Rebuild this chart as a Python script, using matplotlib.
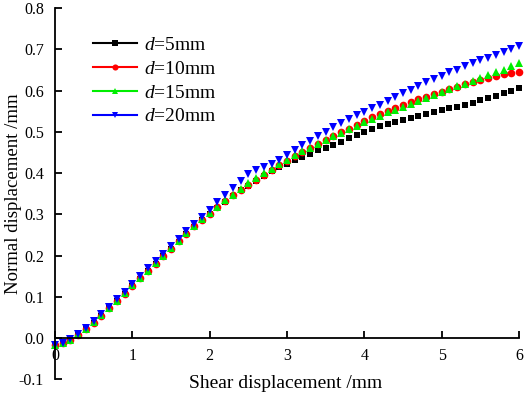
import numpy as np
import matplotlib
matplotlib.use("Agg")
import matplotlib.pyplot as plt
from matplotlib.lines import Line2D

plt.rcParams['font.family'] = 'Liberation Serif'
plt.rcParams['mathtext.fontset'] = 'custom'
plt.rcParams['mathtext.it'] = 'Liberation Serif:italic'
plt.rcParams['mathtext.rm'] = 'Liberation Serif'

# shear displacement (mm), one reading every 0.1 mm
shear = np.round(np.arange(0, 61) * 0.1, 1)

# normal displacement (mm)
d5 = [-0.016, -0.011, -0.004, 0.009, 0.022, 0.038, 0.055, 0.072, 0.090, 0.108,
      0.126, 0.144, 0.162, 0.180, 0.198, 0.216, 0.234, 0.252, 0.270, 0.286,
      0.301, 0.316, 0.331, 0.345, 0.358, 0.370, 0.382, 0.393, 0.404, 0.414,
      0.423, 0.431, 0.439, 0.447, 0.455, 0.462, 0.469, 0.476, 0.485, 0.492,
      0.500, 0.507, 0.513, 0.519, 0.524, 0.529, 0.534, 0.539, 0.543, 0.548,
      0.552, 0.557, 0.561, 0.566, 0.571, 0.576, 0.582, 0.588, 0.594, 0.600,
      0.606]
d10 = [-0.016, -0.011, -0.004, 0.009, 0.022, 0.038, 0.055, 0.072, 0.090, 0.108,
       0.127, 0.145, 0.163, 0.181, 0.199, 0.217, 0.235, 0.253, 0.271, 0.287,
       0.302, 0.317, 0.332, 0.346, 0.360, 0.372, 0.384, 0.396, 0.408, 0.419,
       0.430, 0.441, 0.451, 0.461, 0.471, 0.481, 0.490, 0.499, 0.508, 0.517,
       0.526, 0.535, 0.543, 0.551, 0.558, 0.565, 0.572, 0.579, 0.585, 0.591,
       0.597, 0.603, 0.609, 0.615, 0.621, 0.626, 0.631, 0.635, 0.639, 0.643,
       0.646]
d15 = [-0.016, -0.011, -0.004, 0.010, 0.023, 0.039, 0.056, 0.073, 0.091, 0.109,
       0.128, 0.146, 0.164, 0.182, 0.200, 0.218, 0.236, 0.254, 0.272, 0.288,
       0.304, 0.319, 0.334, 0.348, 0.362, 0.375, 0.388, 0.400, 0.411, 0.422,
       0.433, 0.443, 0.453, 0.462, 0.471, 0.480, 0.489, 0.498, 0.507, 0.515,
       0.523, 0.531, 0.539, 0.547, 0.554, 0.561, 0.568, 0.575, 0.582, 0.589,
       0.596, 0.603, 0.610, 0.617, 0.624, 0.631, 0.637, 0.644, 0.651, 0.659,
       0.667]
d20 = [-0.016, -0.011, -0.003, 0.011, 0.025, 0.041, 0.058, 0.076, 0.094, 0.112,
       0.131, 0.150, 0.169, 0.187, 0.205, 0.223, 0.241, 0.259, 0.277, 0.294,
       0.311, 0.329, 0.347, 0.364, 0.382, 0.398, 0.407, 0.414, 0.422, 0.432,
       0.443, 0.455, 0.467, 0.478, 0.489, 0.500, 0.511, 0.521, 0.531, 0.540,
       0.549, 0.558, 0.566, 0.575, 0.584, 0.593, 0.602, 0.611, 0.620, 0.628,
       0.636, 0.644, 0.651, 0.659, 0.666, 0.673, 0.680, 0.687, 0.694, 0.701,
       0.708]

labels = ["$\\it{d}$=5mm", "$\\it{d}$=10mm", "$\\it{d}$=15mm", "$\\it{d}$=20mm"]
colors = ["#000000", "#ff0000", "#00ee00", "#0000ff"]
markers = ["s", "o", "^", "v"]
sizes = [5, 5.5, 6, 6]

fig = plt.figure(figsize=(5.26, 3.96), dpi=100)
ax = fig.add_axes([0.1046, 0.0417, 0.8821, 0.938])

handles = []
for y, lab, c, m, s in zip([d5, d10, d15, d20], labels, colors, markers, sizes):
    ax.plot(shear, y, linestyle="none", marker=m, color=c, markersize=s,
            markeredgewidth=0, clip_on=False)
    handles.append(Line2D([], [], color=c, marker=m, markersize=s * 0.8,
                          markeredgewidth=0, linewidth=1.5))

ax.set_xlim(0, 6)
ax.set_ylim(-0.1, 0.8)
ax.set_xticks(range(0, 7))
ax.set_yticks(np.round(np.arange(-0.1, 0.81, 0.1), 1))
ax.set_yticklabels([f"{v:.1f}" for v in np.arange(-0.1, 0.81, 0.1)])

ax.spines['top'].set_visible(False)
ax.spines['right'].set_visible(False)
ax.spines['bottom'].set_position(('data', 0))
for sp in ax.spines.values():
    sp.set_linewidth(1.3)
ax.tick_params(direction="in", length=5, width=1.3, labelsize=11.5)
ax.tick_params(axis="x", pad=7)
ax.tick_params(axis="y", pad=8)

ax.text(0.496, -0.012, "Shear displacement /mm", transform=ax.transAxes,
        ha="center", va="center", fontsize=14)
ax.set_ylabel("Normal displacement /mm", fontsize=13.5)
ax.yaxis.set_label_coords(-0.071, 0.50)

ax.legend(handles, labels, loc="upper left", bbox_to_anchor=(0.06, 0.95),
          frameon=False, fontsize=14, handlelength=2.3, handletextpad=0.35,
          labelspacing=0.32, borderpad=0)

fig.savefig("out.png", dpi=100)
